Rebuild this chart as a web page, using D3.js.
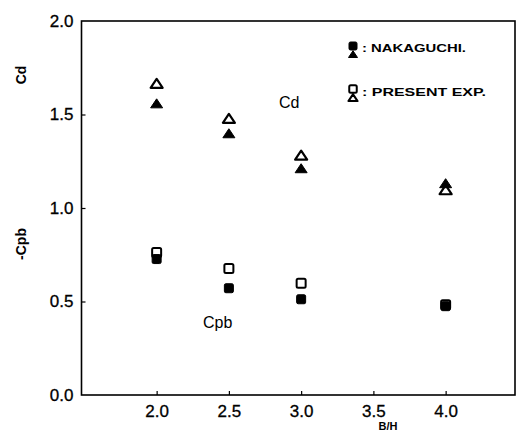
<!DOCTYPE html>
<html>
<head>
<meta charset="utf-8">
<script src="https://cdn.jsdelivr.net/npm/d3@7"></script>
<style>
  body { margin: 0; background: #fff; }
  svg { display: block; }
  text { font-family: "Liberation Sans", Arial, sans-serif; fill: #000; }
</style>
</head>
<body>
<svg id="chart" width="516" height="435"></svg>
<script>
// B/H positions of the measurements
const ratios = [2.0, 2.5, 3.0, 4.0];

// Drag coefficient Cd
const cdNakaguchi = [1.557, 1.397, 1.21, 1.13];
const cdPresent   = [1.664, 1.477, 1.28, 1.095];

// Base pressure coefficient -Cpb
const cpbNakaguchi = [0.727, 0.571, 0.512, 0.475];
const cpbPresent   = [0.762, 0.677, 0.597, 0.482];

const xTicks = [2.0, 2.5, 3.0, 3.5, 4.0];
const yTicks = [0.0, 0.5, 1.0, 1.5, 2.0];

const svg = d3.select("#chart");
const plotLeft = 81.5, plotRight = 515, plotTop = 21, plotBottom = 395;

const x = d3.scaleLinear().domain([1.48, 4.48]).range([plotLeft, plotRight]);
const y = d3.scaleLinear().domain([0, 2]).range([plotBottom, plotTop]);

// frame
svg.append("rect")
  .attr("x", plotLeft).attr("y", plotTop)
  .attr("width", plotRight - plotLeft).attr("height", plotBottom - plotTop)
  .attr("fill", "none").attr("stroke", "#000").attr("stroke-width", 1.6);

// axes with short inward ticks
const xAxis = d3.axisBottom(x).tickValues(xTicks).tickSize(-4).tickPadding(10)
  .tickFormat(d3.format(".1f"));
const gx = svg.append("g").attr("transform", `translate(0,${plotBottom})`).call(xAxis);
gx.select(".domain").remove();
gx.selectAll(".tick line").attr("stroke", "#000").attr("stroke-width", 1.2);
gx.selectAll(".tick text").attr("font-size", 17).attr("dy", "0.71em")
  .attr("stroke", "#000").attr("stroke-width", 0.3);

const yAxis = d3.axisLeft(y).tickValues(yTicks).tickSize(-4).tickPadding(8)
  .tickFormat(d3.format(".1f"));
const gy = svg.append("g").attr("transform", `translate(${plotLeft},0)`).call(yAxis);
gy.select(".domain").remove();
gy.selectAll(".tick line").attr("stroke", "#000").attr("stroke-width", 1.2)
  .filter(d => d === 0 || d === 2).remove();
gy.selectAll(".tick text").attr("font-size", 17)
  .attr("stroke", "#000").attr("stroke-width", 0.3);

// symbols
const square = (cx, cy, filled, s = 9) => svg.append("rect")
  .attr("x", cx - s / 2).attr("y", cy - s / 2)
  .attr("width", s).attr("height", s).attr("rx", 1.5)
  .attr("fill", filled ? "#000" : "#fff")
  .attr("stroke", "#000").attr("stroke-width", filled ? 1 : 2);
const triangle = (cx, cy, filled, k = 1) => svg.append("path")
  .attr("d", `M${cx},${cy - 5 * k} L${cx + 6 * k},${cy + 4 * k} L${cx - 6 * k},${cy + 4 * k} Z`)
  .attr("fill", filled ? "#000" : "#fff")
  .attr("stroke", "#000").attr("stroke-width", filled ? 1 : 2.2)
  .attr("stroke-linejoin", "round");

// open symbols first, filled ones on top where they overlap
ratios.forEach((r, i) => {
  triangle(x(r), y(cdPresent[i]), false);
  square(x(r), y(cpbPresent[i]), false);
});
ratios.forEach((r, i) => {
  triangle(x(r), y(cdNakaguchi[i]), true);
  square(x(r), y(cpbNakaguchi[i]), true);
});

// curve labels
svg.append("text").attr("x", 279).attr("y", 108).attr("font-size", 16).text("Cd");
svg.append("text").attr("x", 203).attr("y", 328).attr("font-size", 16).text("Cpb");

// legend
square(353, 46, true, 8);
triangle(353, 54.5, true, 0.75);
square(353, 89, false, 7.5);
triangle(353, 98, false, 0.75);
svg.append("text").attr("x", 362).attr("y", 52).attr("font-size", 11)
  .attr("font-weight", "bold").attr("textLength", 104).attr("lengthAdjust", "spacingAndGlyphs")
  .text(": NAKAGUCHI.");
svg.append("text").attr("x", 362).attr("y", 96).attr("font-size", 11)
  .attr("font-weight", "bold").attr("textLength", 124).attr("lengthAdjust", "spacingAndGlyphs")
  .text(": PRESENT EXP.");

// axis titles
svg.append("text").attr("x", 388).attr("y", 430).attr("font-size", 11)
  .attr("font-weight", "bold").attr("text-anchor", "middle")
  .attr("font-family", "Liberation Serif, serif").text("B/H");
svg.append("text").attr("transform", "translate(26,75) rotate(-90)")
  .attr("font-size", 14).attr("font-weight", "bold").attr("text-anchor", "middle")
  .text("Cd");
svg.append("text").attr("transform", "translate(26,244) rotate(-90)")
  .attr("font-size", 14).attr("font-weight", "bold").attr("text-anchor", "middle")
  .text("-Cpb");
</script>
</body>
</html>
